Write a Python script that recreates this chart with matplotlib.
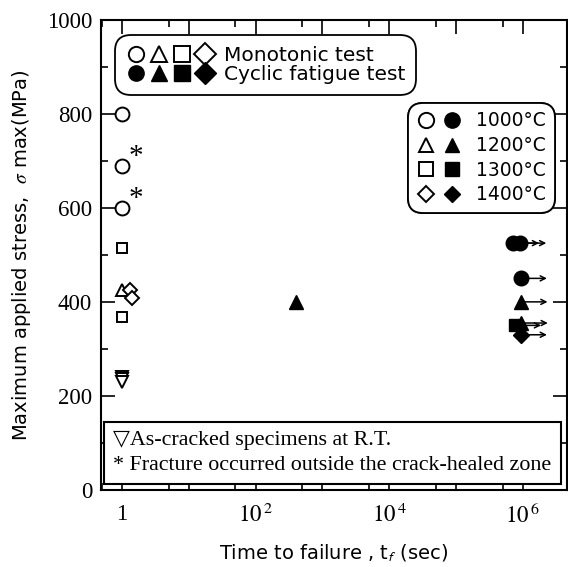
import matplotlib.pyplot as plt
from matplotlib.legend_handler import HandlerTuple
from matplotlib.lines import Line2D
from matplotlib.ticker import FixedLocator, FixedFormatter, NullFormatter
from matplotlib.transforms import offset_copy

SANS = ['DejaVu Sans']
SERIF = ['Liberation Serif', 'DejaVu Sans']
plt.rcParams['mathtext.fontset'] = 'stix'

#
# Data
#
# monotonic tests
mono_1000_t = [1, 1, 1]
mono_1000_s = [800, 690, 600]
mono_1000_outside = [False, True, True]
mono_1200_t = [1]
mono_1200_s = [425]
mono_1300_t = [1, 1]
mono_1300_s = [515, 368]
mono_1400_t = [1.3, 1.4]
mono_1400_s = [425, 408]
# as-cracked specimens at R.T.
rt_t = [1, 1, 1]
rt_s = [240, 235, 230]

# cyclic fatigue tests
cyc_1000_t = [7.1e5, 9.1e5, 9.3e5]
cyc_1000_s = [525, 525, 450]
cyc_1000_runout = [True, True, True]
cyc_1200_t = [400, 9.6e5, 9.5e5]
cyc_1200_s = [400, 355, 400]
cyc_1200_runout = [False, True, True]
cyc_1300_t = [7.6e5]
cyc_1300_s = [350]
cyc_1300_runout = [True]
cyc_1400_t = [9.3e5]
cyc_1400_s = [330]
cyc_1400_runout = [True]

temps = ['1000', '1200', '1300', '1400']
markers = ['o', '^', 's', 'D']
sizes = [10, 9, 7.5, 7.5]
leg2_sizes = [11, 10, 9.5, 8]

x_ticks = [1, 1e1, 1e2, 1e3, 1e4, 1e5, 1e6]
x_labels = ['1', '', '$10^{\\,2}$', '', '$10^{\\,4}$', '', '$10^{\\,6}$']
x_minor = [5e-1, 5, 5e1, 5e2, 5e3, 5e4, 5e5]

#
# Figure
#
fig = plt.figure(figsize=(5.68, 5.67), dpi=100)
ax = fig.add_axes([0.178, 0.136, 0.820, 0.829])
ax.set_xscale('log')
ax.set_xlim(0.485, 4.6e6)
ax.set_ylim(0, 1000)

open_kw = dict(ls='none', mfc='white', mec='black', mew=1.4)
fill_kw = dict(ls='none', mfc='black', mec='black', mew=1.0)

mono = [(mono_1000_t, mono_1000_s), (mono_1200_t, mono_1200_s),
        (mono_1300_t, mono_1300_s), (mono_1400_t, mono_1400_s)]
cyc = [(cyc_1000_t, cyc_1000_s, cyc_1000_runout),
       (cyc_1200_t, cyc_1200_s, cyc_1200_runout),
       (cyc_1300_t, cyc_1300_s, cyc_1300_runout),
       (cyc_1400_t, cyc_1400_s, cyc_1400_runout)]

# runout arrows first so markers sit on top
arrow_end = offset_copy(ax.transData, fig=fig, x=19, y=0, units='points')
for (t, s, run) in cyc:
    for ti, si, ri in zip(t, s, run):
        if ri:
            ax.annotate('', xy=(ti, si), xycoords=arrow_end,
                        xytext=(ti, si), textcoords='data',
                        arrowprops=dict(arrowstyle='->', lw=1.1, color='black',
                                        shrinkA=0, shrinkB=0,
                                        mutation_scale=9))

for (t, s), m, ms in zip(mono, markers, sizes):
    ax.plot(t, s, marker=m, ms=ms, zorder=3, **open_kw)
for (t, s, run), m, ms in zip(cyc, markers, sizes):
    ax.plot(t, s, marker=m, ms=ms + 0.5, zorder=3, **fill_kw)
ax.plot(rt_t, rt_s, marker='v', ms=8, zorder=3, **open_kw)

for t, s, flag in zip(mono_1000_t, mono_1000_s, mono_1000_outside):
    if flag:
        ax.annotate('*', (t, s), xytext=(5, -3), textcoords='offset points',
                    fontsize=21, family=SERIF, ha='left', va='bottom')

# axes styling
for sp in ax.spines.values():
    sp.set_linewidth(1.5)
ax.xaxis.set_major_locator(FixedLocator(x_ticks))
ax.xaxis.set_major_formatter(FixedFormatter(x_labels))
ax.xaxis.set_minor_locator(FixedLocator(x_minor))
ax.xaxis.set_minor_formatter(NullFormatter())
ax.yaxis.set_major_locator(FixedLocator(range(0, 1001, 200)))
ax.yaxis.set_minor_locator(FixedLocator(range(100, 1000, 200)))
ax.tick_params(which='both', direction='in', top=True, right=True, width=1.2)
ax.tick_params(which='major', length=10, labelsize=16.5, pad=6.5)
ax.tick_params(which='minor', length=5)
ax.tick_params(axis='x', which='major', pad=10)
for lab in ax.get_xticklabels() + ax.get_yticklabels():
    lab.set_family(SERIF)

ax.set_xlabel('Time to failure , t$_{\\mathsf{f}}$ (sec)', family=SANS,
              fontsize=14, labelpad=10)
ax.set_ylabel('Maximum applied stress,  $\\sigma$ max(MPa)', family=SANS,
              fontsize=14, labelpad=10)

# legend 1 : test type
h_open = tuple(Line2D([], [], marker=m, ms=11, **open_kw) for m in markers)
h_fill = tuple(Line2D([], [], marker=m, ms=11, **fill_kw) for m in markers)
leg1 = ax.legend([h_open, h_fill], ['Monotonic test', 'Cyclic fatigue test'],
                 handler_map={tuple: HandlerTuple(ndivide=None, pad=0.15)},
                 handlelength=4.4, handletextpad=0.45, labelspacing=0.0,
                 loc='upper left', bbox_to_anchor=(0.03, 0.968),
                 borderaxespad=0, borderpad=0.55, fancybox=True,
                 edgecolor='black', framealpha=1,
                 prop=dict(family=SANS, size=14.5))
leg1.get_frame().set_linewidth(1.3)
leg1.get_frame().set_boxstyle('round,pad=0,rounding_size=0.8')
ax.add_artist(leg1)

# legend 2 : temperature
h_temp = [(Line2D([], [], marker=m, ms=ms, **open_kw),
           Line2D([], [], marker=m, ms=ms, **fill_kw))
          for m, ms in zip(markers, leg2_sizes)]
leg2 = ax.legend(h_temp, [t + '°C' for t in temps],
                 handler_map={tuple: HandlerTuple(ndivide=None, pad=0.35)},
                 handlelength=2.4, handletextpad=0.8, labelspacing=0.3,
                 loc='upper right', bbox_to_anchor=(0.974, 0.823),
                 borderaxespad=0, borderpad=0.45, fancybox=True,
                 edgecolor='black', framealpha=1,
                 prop=dict(family=SANS, size=13.5))
leg2.get_frame().set_linewidth(1.3)
leg2.get_frame().set_boxstyle('round,pad=0,rounding_size=0.8')
ax.add_artist(leg2)

# note box
ax.text(0.026, 0.032,
        '\u25bdAs-cracked specimens at R.T.\n'
        '* Fracture occurred outside the crack-healed zone',
        transform=ax.transAxes, ha='left', va='bottom', family=SERIF,
        fontsize=15.8, linespacing=1.4, zorder=5,
        bbox=dict(boxstyle='square,pad=0.42', fc='white', ec='black', lw=1.5))

fig.savefig('out.png', dpi=100)
